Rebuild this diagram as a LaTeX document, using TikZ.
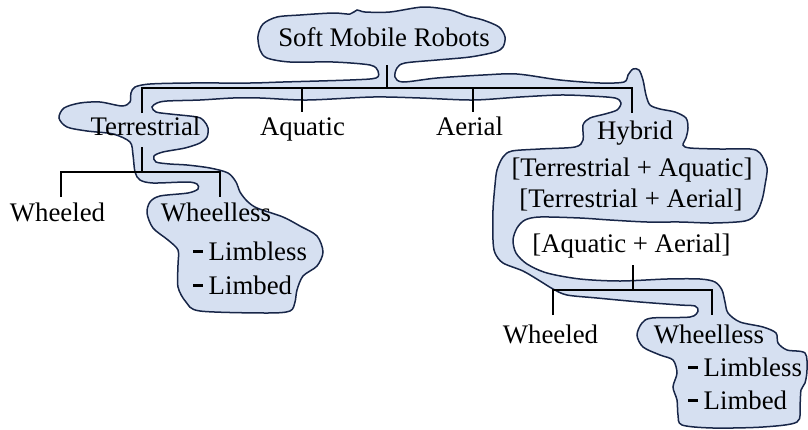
\documentclass[tikz,border=0pt]{standalone}
\usepackage{fontspec}
\setmainfont{Liberation Serif}
\definecolor{blobfill}{RGB}{214,224,241}
\definecolor{blobline}{RGB}{24,38,72}
\tikzset{
  blob/.style={fill=blobfill, draw=blobline, line width=1.5pt},
  conn/.style={draw=black, line width=2.8pt, line join=miter, line cap=butt},
  lbl/.style={anchor=base, inner sep=0pt, font=\fontsize{26.8}{30}\selectfont},
  lblw/.style={lbl, anchor=base west},
}
\newcommand{\itemdash}{\rule[7.5pt]{10pt}{2.6pt}\hspace{5.5pt}}
\begin{document}
\begin{tikzpicture}[x=1pt,y=-1pt]
\useasboundingbox (0,0) rectangle (808,429);
\draw[blob] plot[smooth cycle, tension=0.5] coordinates {
(258,36) (263,24) (277,17) (300,15) (333,13) (350,14) (357,10) (365,12) (390,12)
(423,7) (450,10) (467,16) (483,20) (499,27) (505,37) (503,47) (495,52) (470,57)
(437,60) (405,63) (397,68) (395,77) (403,82) (437,78) (483,75) (517,74) (560,80)
(600,83) (624,82) (628,75) (633,69) (639,70) (643,80) (646,95) (650,105) (660,109)
(675,112) (686,118) (688,128) (686,138) (683,145) (690,148) (720,149) (750,149)
(760,153) (767,168) (765,185) (762,200) (756,214) (745,221) (713,223) (680,222)
(647,222) (610,220) (580,218) (540,217) (525,220) (517,228) (513,240) (516,253)
(527,264) (547,273) (580,279) (620,281) (667,279) (700,279) (715,282) (722,290)
(725,302) (728,313) (740,322) (763,327) (776,333) (778,343) (787,350) (805,353)
(807,370) (805,383) (801,390) (800,405) (797,422) (763,427) (713,428) (682,425)
(678,415) (677,400) (673,387) (677,373) (673,360) (660,355) (643,347) (637,335)
(642,323) (652,318) (690,317) (698,311) (695,306) (680,305) (640,302) (597,298)
(567,295) (553,289) (540,281) (523,271) (503,263) (495,253) (493,240) (493,210)
(495,185) (497,170) (503,157) (512,151) (540,149) (575,147) (583,140) (583,125)
(590,118) (605,114) (617,110) (621,103) (615,98) (590,96) (560,95) (520,97)
(473,100) (420,98) (373,97) (307,100) (260,98) (233,98) (200,100) (167,101)
(157,103) (152,107) (156,112) (170,114) (197,117) (204,121) (208,128) (207,137)
(200,143) (185,148) (163,152) (154,156) (156,162) (170,164) (187,165) (210,168)
(228,173) (236,182) (240,192) (247,201) (257,208) (283,217) (300,226) (317,236)
(323,252) (317,266) (303,276) (297,290) (295,302) (290,311) (267,313) (200,311)
(186,302) (178,287) (178,265) (178,250) (168,240) (153,228) (147,213) (150,202)
(160,196) (188,193) (198,189) (197,184) (187,182) (153,183) (140,180) (135,172)
(133,155) (130,142) (113,134) (87,131) (67,127) (59,118) (64,108) (80,103)
(100,102) (122,106) (130,102) (131,93) (135,87) (150,84) (190,83) (250,83)
(283,82) (350,80) (376,78) (378,71) (370,65) (333,62) (290,62) (267,58) (260,50)
};
% labels
\node[lbl] (root) at (384,46) {Soft Mobile Robots};
\node[lbl] (terr) at (145.5,135) {Terrestrial};
\node[lbl] (aqua) at (302.5,135) {Aquatic};
\node[lbl] (aer) at (469.5,135) {Aerial};
\node[lbl] (hyb) at (635,139) {Hybrid};
\node[lbl] (hta) at (632,176) {[Terrestrial + Aquatic]};
\node[lbl] (htr) at (631,207) {[Terrestrial + Aerial]};
\node[lbl] (haa) at (631.5,252) {[Aquatic + Aerial]};
\node[lbl] (twd) at (57.5,221) {Wheeled};
\node[lbl] (twl) at (216,221) {Wheelless};
\node[lblw] (tlb) at (193,260) {\itemdash Limbless};
\node[lblw] (tlm) at (193,294) {\itemdash Limbed};
\node[lbl] (hwd) at (550.5,343) {Wheeled};
\node[lbl] (hwl) at (709,343) {Wheelless};
\node[lblw] (hlb) at (688,376) {\itemdash Limbless};
\node[lblw] (hlm) at (688,409) {\itemdash Limbed};
% connector points
\coordinate (rs) at (387,65); \coordinate (rb) at (387,88);
\coordinate (tb1) at (142,113); \coordinate (tb2) at (142,88);
\coordinate (tb3) at (632,88); \coordinate (tb4) at (632,113);
\coordinate (aq1) at (302,88); \coordinate (aq2) at (302,112);
\coordinate (ae1) at (473,88); \coordinate (ae2) at (473,112);
\coordinate (ts1) at (142,147); \coordinate (ts2) at (142,172);
\coordinate (tl1) at (61,197); \coordinate (tl2) at (61,172);
\coordinate (tl3) at (220,172); \coordinate (tl4) at (220,197);
\coordinate (hs1) at (633,265); \coordinate (hs2) at (633,290);
\coordinate (hl1) at (553,315); \coordinate (hl2) at (553,290);
\coordinate (hl3) at (712,290); \coordinate (hl4) at (712,315);
% connectors
\draw[conn] (rs) -- (rb);
\draw[conn] (tb1) -- (tb2) -- (tb3) -- (tb4);
\draw[conn] (aq1) -- (aq2);
\draw[conn] (ae1) -- (ae2);
\draw[conn] (ts1) -- (ts2);
\draw[conn] (tl1) -- (tl2) -- (tl3) -- (tl4);
\draw[conn] (hs1) -- (hs2);
\draw[conn] (hl1) -- (hl2) -- (hl3) -- (hl4);
\end{tikzpicture}
\end{document}
